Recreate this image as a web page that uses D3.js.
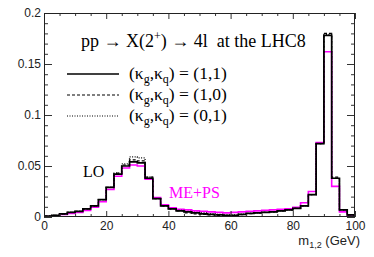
<!DOCTYPE html>
<html>
<head>
<meta charset="utf-8">
<script src="https://cdn.jsdelivr.net/npm/d3@7"></script>
<style>
body { margin: 0; background: #fff; }
svg text { font-family: "Liberation Sans", Arial, sans-serif; fill: #222; }
svg text.serif { font-family: "Liberation Serif", "Times New Roman", serif; fill: #000; }
</style>
</head>
<body>
<svg id="chart" width="374" height="257"></svg>
<script>
// bin edges in GeV (2.5 GeV bins)
var binEdges = [0, 2.5, 5, 7.5, 10, 12.5, 15, 17.5, 20, 22.5, 25, 27.5, 30, 32.5, 35, 37.5,
    40, 42.5, 45, 47.5, 50, 52.5, 55, 57.5, 60, 62.5, 65, 67.5, 70, 72.5, 75, 77.5,
    80, 82.5, 85, 87.5, 90, 92.5, 95, 97.5, 100];

// (kg,kq) = (1,1)  solid
var k11 = [0.0008, 0.0015, 0.003, 0.0045, 0.0055, 0.008, 0.011, 0.017, 0.029, 0.042,
    0.050, 0.054, 0.053, 0.038, 0.018, 0.011, 0.008, 0.006, 0.005, 0.004,
    0.003, 0.0025, 0.002, 0.0015, 0.0015, 0.0025, 0.0035, 0.004, 0.0045, 0.005,
    0.006, 0.007, 0.0085, 0.011, 0.022, 0.072, 0.178, 0.038, 0.007, 0.002];
// (kg,kq) = (1,0)  dashed
var k10 = [0.0008, 0.0015, 0.003, 0.0045, 0.0055, 0.008, 0.011, 0.017, 0.029, 0.043,
    0.051, 0.056, 0.055, 0.039, 0.018, 0.011, 0.008, 0.006, 0.004, 0.003,
    0.0025, 0.002, 0.0015, 0.001, 0.0012, 0.0022, 0.0032, 0.004, 0.0045, 0.005,
    0.006, 0.007, 0.0085, 0.011, 0.022, 0.072, 0.180, 0.039, 0.007, 0.002];
// (kg,kq) = (0,1)  dotted
var k01 = [0.0008, 0.0015, 0.003, 0.0045, 0.0055, 0.008, 0.011, 0.017, 0.029, 0.043,
    0.052, 0.059, 0.058, 0.039, 0.018, 0.011, 0.008, 0.0065, 0.0055, 0.0045,
    0.004, 0.003, 0.0025, 0.002, 0.002, 0.0028, 0.0035, 0.004, 0.0045, 0.005,
    0.006, 0.007, 0.0085, 0.011, 0.022, 0.072, 0.179, 0.038, 0.007, 0.002];
// ME+PS  magenta
var mePs = [0.0005, 0.001, 0.0025, 0.0035, 0.0045, 0.0065, 0.0095, 0.015, 0.027, 0.040,
    0.048, 0.051, 0.050, 0.037, 0.019, 0.012, 0.009, 0.0075, 0.007, 0.006,
    0.0055, 0.005, 0.0045, 0.004, 0.0045, 0.005, 0.0055, 0.006, 0.0065, 0.007,
    0.0075, 0.008, 0.0095, 0.014, 0.025, 0.073, 0.162, 0.030, 0.005, 0.001];

var xMajor = [0, 20, 40, 60, 80, 100];
var xMinor = [5, 10, 15, 25, 30, 35, 45, 50, 55, 65, 70, 75, 85, 90, 95];
var yMajor = [0, 0.05, 0.1, 0.15, 0.2];
var yMajorLabels = ["0", "0.05", "0.1", "0.15", "0.2"];
var yMinor = [0.01, 0.02, 0.03, 0.04, 0.06, 0.07, 0.08, 0.09, 0.11, 0.12, 0.13, 0.14,
    0.16, 0.17, 0.18, 0.19];

// frame edges (note: "top" is taken by window.top)
var frameL = 44, frameR = 355, frameT = 13, frameB = 217;

var svg = d3.select("#chart");

var x = d3.scaleLinear().domain([0, 100]).range([frameL, frameR]);
var y = d3.scaleLinear().domain([0, 0.2]).range([frameB, frameT]);

svg.append("clipPath").attr("id", "plot")
    .append("rect")
    .attr("x", frameL).attr("y", frameT - 2)
    .attr("width", frameR - frameL).attr("height", frameB - frameT + 2);

// histograms
function stepPath(vals) {
    var pts = binEdges.map(function (e, i) {
        return [e, vals[Math.min(i, vals.length - 1)]];
    });
    return d3.line()
        .x(function (d) { return x(d[0]); })
        .y(function (d) { return y(d[1]); })
        .curve(d3.curveStepAfter)(pts);
}

var hists = svg.append("g").attr("clip-path", "url(#plot)");

hists.append("path").attr("d", stepPath(mePs))
    .attr("fill", "none").attr("stroke", "#ff00ff").attr("stroke-width", 1.6);
hists.append("path").attr("d", stepPath(k01))
    .attr("fill", "none").attr("stroke", "#000").attr("stroke-width", 1.2)
    .attr("stroke-dasharray", "1,1.5");
hists.append("path").attr("d", stepPath(k10))
    .attr("fill", "none").attr("stroke", "#000").attr("stroke-width", 1.2)
    .attr("stroke-dasharray", "3,2");
hists.append("path").attr("d", stepPath(k11))
    .attr("fill", "none").attr("stroke", "#000").attr("stroke-width", 1.7);

// axes, ROOT style ticks pointing inward
function tidy(g) {
    g.select(".domain").remove();
    g.selectAll(".tick line").attr("stroke", "#333");
    g.selectAll("text").attr("font-size", 12).attr("fill", "#222");
}

svg.append("g").attr("transform", "translate(" + frameL + ",0)")
    .call(d3.axisLeft(y).tickValues(yMajor).tickSize(-8).tickPadding(3)
        .tickFormat(function (d, i) { return yMajorLabels[i]; }))
    .call(tidy);
svg.append("g").attr("transform", "translate(" + frameL + ",0)")
    .call(d3.axisLeft(y).tickValues(yMinor).tickSize(-4).tickFormat(""))
    .call(tidy);
svg.append("g").attr("transform", "translate(" + frameR + ",0)")
    .call(d3.axisRight(y).tickValues(yMajor).tickSize(-8).tickFormat(""))
    .call(tidy);
svg.append("g").attr("transform", "translate(" + frameR + ",0)")
    .call(d3.axisRight(y).tickValues(yMinor).tickSize(-4).tickFormat(""))
    .call(tidy);

svg.append("g").attr("transform", "translate(0," + frameB + ")")
    .call(d3.axisBottom(x).tickValues(xMajor).tickSize(-6).tickPadding(4))
    .call(tidy);
svg.append("g").attr("transform", "translate(0," + frameB + ")")
    .call(d3.axisBottom(x).tickValues(xMinor).tickSize(-3).tickFormat(""))
    .call(tidy);
svg.append("g").attr("transform", "translate(0," + frameT + ")")
    .call(d3.axisTop(x).tickValues(xMajor).tickSize(-6).tickFormat(""))
    .call(tidy);
svg.append("g").attr("transform", "translate(0," + frameT + ")")
    .call(d3.axisTop(x).tickValues(xMinor).tickSize(-3).tickFormat(""))
    .call(tidy);

svg.append("rect")
    .attr("x", frameL + 0.5).attr("y", frameT + 0.5)
    .attr("width", frameR - frameL - 1).attr("height", frameB - frameT - 1)
    .attr("fill", "none").attr("stroke", "#222").attr("stroke-width", 1);

// x axis title
var xt = svg.append("text").attr("x", 360).attr("y", 245)
    .attr("text-anchor", "end").attr("font-size", 13);
xt.append("tspan").text("m");
xt.append("tspan").attr("font-size", 9).attr("dy", 3).text("1,2");
xt.append("tspan").attr("dy", -3).text(" (GeV)");

// title
var title = svg.append("text").attr("class", "serif")
    .attr("x", 81).attr("y", 47).attr("font-size", 18)
    .style("white-space", "pre");
title.append("tspan").text("pp \u2192 X(2");
title.append("tspan").attr("font-size", 12).attr("dy", -7).text("+");
title.append("tspan").attr("dy", 7).text(") \u2192 4l  at the LHC8");

// legend
var legendRows = [
    { label: "(1,1)", dash: null, y: 74 },
    { label: "(1,0)", dash: "3,2", y: 95 },
    { label: "(0,1)", dash: "1,1.5", y: 116 }
];
legendRows.forEach(function (r) {
    svg.append("line")
        .attr("x1", 67).attr("x2", 119).attr("y1", r.y).attr("y2", r.y)
        .attr("stroke", "#000").attr("stroke-width", r.dash ? 1.2 : 1.7)
        .attr("stroke-dasharray", r.dash);
    var t = svg.append("text").attr("class", "serif")
        .attr("x", 129).attr("y", r.y + 5).attr("font-size", 17.5);
    t.append("tspan").text("(\u03ba");
    t.append("tspan").attr("font-size", 12).attr("dy", 4).text("g");
    t.append("tspan").attr("dy", -4).text(",\u03ba");
    t.append("tspan").attr("font-size", 12).attr("dy", 4).text("q");
    t.append("tspan").attr("dy", -4).text(") = " + r.label);
});

svg.append("text").attr("class", "serif")
    .attr("x", 83).attr("y", 177).attr("font-size", 16).text("LO");
svg.append("text").attr("class", "serif")
    .attr("x", 169).attr("y", 198).attr("font-size", 16)
    .style("fill", "#ff00ff").text("ME+PS");
</script>
</body>
</html>
